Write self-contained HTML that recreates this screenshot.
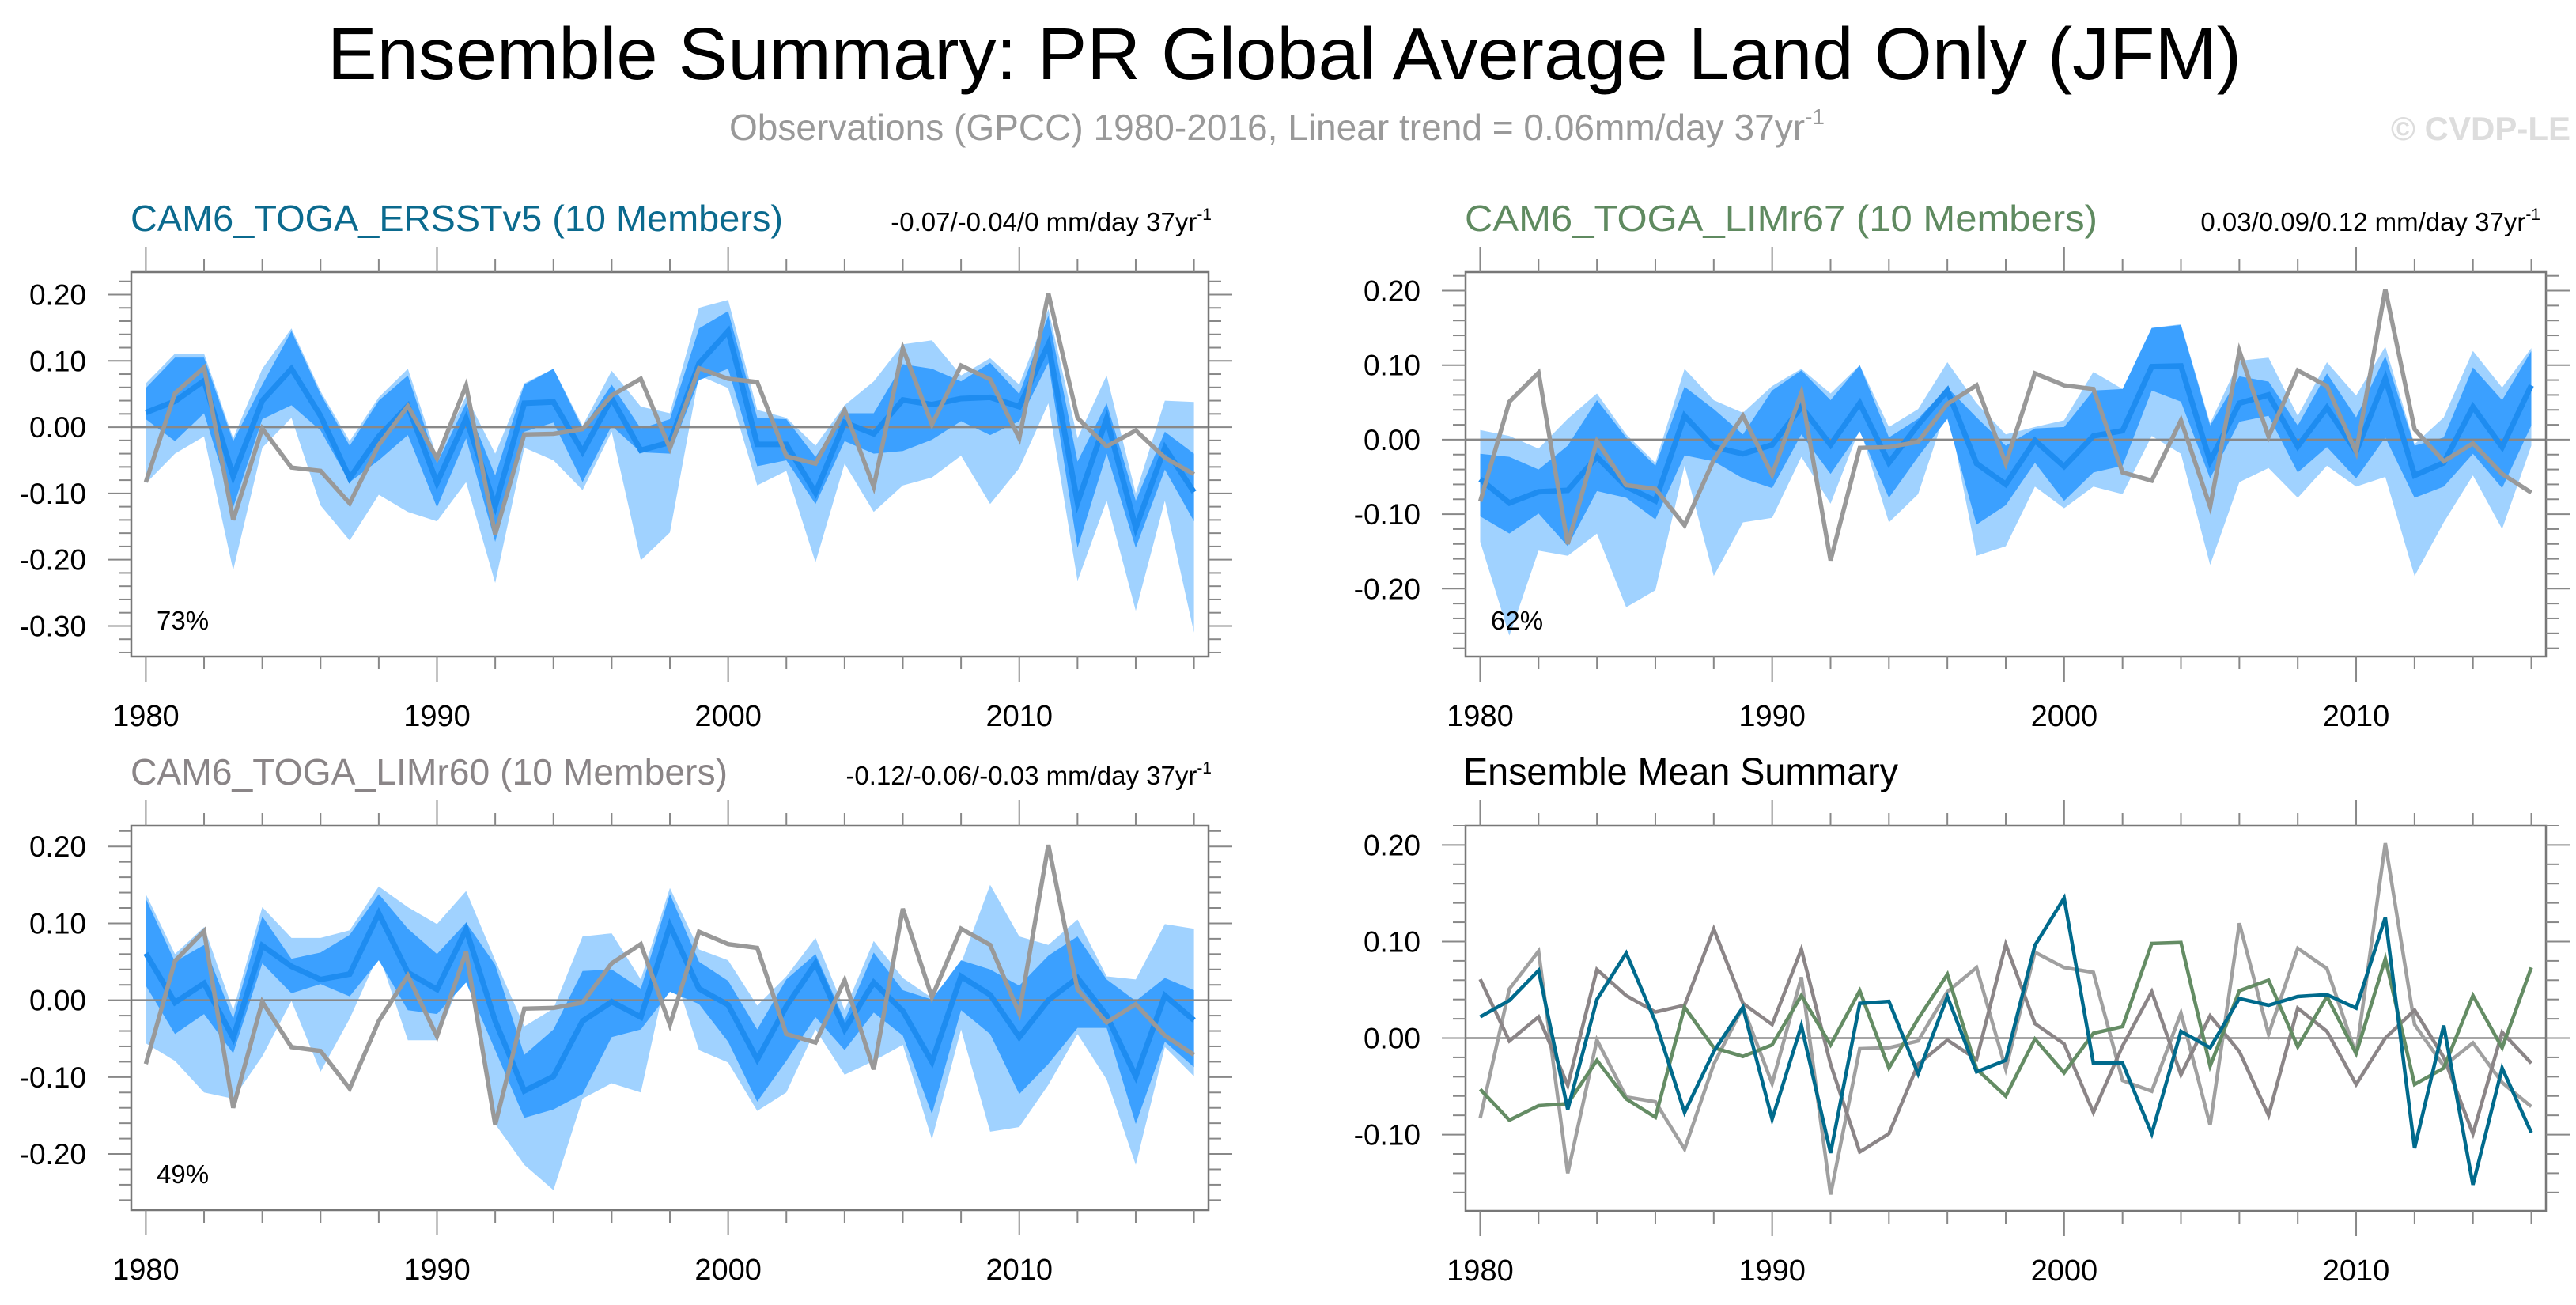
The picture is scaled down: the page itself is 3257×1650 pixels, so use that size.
<!DOCTYPE html>
<html><head><meta charset="utf-8"><title>Ensemble Summary PR</title>
<style>html,body{margin:0;padding:0;background:#fff}svg{display:block;font-family:"Liberation Sans",sans-serif}</style>
</head><body>
<svg id="chart" xmlns="http://www.w3.org/2000/svg" width="3257" height="1650" viewBox="0 0 3257 1650">
<rect width="3257" height="1650" fill="#fff"/>
<text x="1624" y="100" font-size="93" text-anchor="middle" fill="#000" textLength="2420" lengthAdjust="spacingAndGlyphs">Ensemble Summary: PR Global Average Land Only (JFM)</text>
<text x="922" y="177" font-size="46" fill="#999" textLength="1385" lengthAdjust="spacingAndGlyphs">Observations (GPCC) 1980-2016, Linear trend = 0.06mm/day 37yr<tspan font-size="28" dy="-20">-1</tspan></text>
<text x="3250" y="177" font-size="42" font-weight="bold" fill="#ddd" text-anchor="end">© CVDP-LE</text>
<text x="165" y="292" font-size="46" fill="#0b6a8e" textLength="825" lengthAdjust="spacingAndGlyphs">CAM6_TOGA_ERSSTv5 (10 Members)</text>
<text x="1532" y="292" font-size="33" fill="#000" text-anchor="end">-0.07/-0.04/0 mm/day 37yr<tspan font-size="21" dy="-14">-1</tspan></text>
<text x="1852" y="292" font-size="46" fill="#5f8a60" textLength="800" lengthAdjust="spacingAndGlyphs">CAM6_TOGA_LIMr67 (10 Members)</text>
<text x="3212" y="292" font-size="33" fill="#000" text-anchor="end">0.03/0.09/0.12 mm/day 37yr<tspan font-size="21" dy="-14">-1</tspan></text>
<text x="165" y="992" font-size="46" fill="#8a8587" textLength="755" lengthAdjust="spacingAndGlyphs">CAM6_TOGA_LIMr60 (10 Members)</text>
<text x="1532" y="992" font-size="33" fill="#000" text-anchor="end">-0.12/-0.06/-0.03 mm/day 37yr<tspan font-size="21" dy="-14">-1</tspan></text>
<text x="1850" y="992" font-size="48" fill="#000" textLength="550" lengthAdjust="spacingAndGlyphs">Ensemble Mean Summary</text>
</svg>
<script>
const years=[];for(let y=1980;y<=2016;y++)years.push(y);
const obs=[-0.083,0.051,0.090,-0.140,-0.002,-0.061,-0.066,-0.115,-0.027,0.032,-0.047,0.063,-0.162,-0.011,-0.010,-0.003,0.048,0.073,-0.032,0.089,0.073,0.068,-0.044,-0.055,0.026,-0.090,0.119,0.004,0.093,0.072,-0.017,0.202,0.014,-0.029,-0.005,-0.046,-0.071];
const ersstMean=[0.022,0.039,0.070,-0.074,0.040,0.088,0.017,-0.077,-0.014,0.032,-0.084,0.013,-0.119,0.036,0.038,-0.037,0.043,-0.035,-0.023,0.096,0.145,-0.026,-0.026,-0.099,0.007,-0.010,0.041,0.034,0.043,0.045,0.031,0.125,-0.114,0.013,-0.152,-0.031,-0.098];
const limr67Mean=[-0.053,-0.085,-0.070,-0.068,-0.023,-0.063,-0.082,0.032,-0.010,-0.019,-0.007,0.044,-0.007,0.049,-0.031,0.020,0.066,-0.032,-0.060,-0.001,-0.036,0.005,0.012,0.098,0.099,-0.029,0.049,0.060,-0.009,0.043,-0.016,0.082,-0.048,-0.031,0.044,-0.010,0.073];
const limr60Mean=[0.061,-0.003,0.022,-0.049,0.071,0.044,0.027,0.034,0.113,0.036,0.014,0.092,-0.027,-0.118,-0.099,-0.027,-0.002,-0.022,0.097,0.015,-0.006,-0.077,-0.008,0.048,-0.038,0.023,-0.014,-0.080,0.031,0.007,-0.048,0.000,0.029,-0.020,-0.099,0.006,-0.026];
const ersstMax=[0.066,0.111,0.111,-0.017,0.088,0.149,0.054,-0.021,0.045,0.088,-0.045,0.047,-0.040,0.066,0.088,0.002,0.085,0.031,0.021,0.180,0.192,0.026,0.014,-0.028,0.033,0.069,0.125,0.131,0.078,0.104,0.064,0.178,-0.017,0.078,-0.100,0.040,0.038];
const ersstMin=[-0.085,-0.040,-0.014,-0.216,-0.031,0.014,-0.118,-0.171,-0.102,-0.128,-0.142,-0.083,-0.235,-0.031,-0.050,-0.095,-0.007,-0.201,-0.159,0.078,0.059,-0.088,-0.066,-0.204,-0.055,-0.128,-0.088,-0.076,-0.043,-0.116,-0.062,0.036,-0.232,-0.111,-0.277,-0.111,-0.310];
const ersstQ3=[0.059,0.105,0.105,-0.021,0.064,0.145,0.050,-0.028,0.040,0.078,-0.055,0.036,-0.073,0.064,0.088,-0.002,0.064,-0.002,0.012,0.149,0.175,0.014,0.012,-0.045,0.021,0.021,0.095,0.088,0.069,0.097,0.050,0.168,-0.052,0.036,-0.111,-0.007,-0.040];
const ersstQ1=[0.012,-0.021,0.021,-0.121,0.012,0.033,-0.005,-0.083,-0.050,-0.012,-0.121,-0.017,-0.173,-0.007,0.007,-0.083,0.002,-0.038,-0.040,0.071,0.088,-0.059,-0.050,-0.116,-0.021,-0.040,-0.036,-0.019,0.009,-0.012,0.009,0.097,-0.182,-0.040,-0.182,-0.064,-0.142];
const limr67Max=[0.013,0.005,-0.012,0.028,0.062,0.007,-0.031,0.095,0.053,0.036,0.072,0.095,0.062,0.100,0.017,0.041,0.104,0.049,0.007,0.017,0.026,0.091,0.068,0.150,0.155,0.022,0.106,0.110,0.032,0.104,0.059,0.125,-0.006,0.030,0.119,0.070,0.123];
const limr67Min=[-0.137,-0.263,-0.149,-0.156,-0.126,-0.225,-0.202,-0.035,-0.183,-0.111,-0.105,-0.023,-0.086,0.015,-0.111,-0.073,0.045,-0.156,-0.143,-0.063,-0.092,-0.063,-0.073,0.005,-0.019,-0.168,-0.057,-0.038,-0.078,-0.035,-0.063,-0.050,-0.183,-0.111,-0.048,-0.120,-0.008];
const limr67Q3=[-0.019,-0.023,-0.040,-0.008,0.053,0.003,-0.035,0.071,0.041,0.007,0.066,0.093,0.053,0.100,0.003,0.028,0.070,0.030,-0.008,0.015,0.017,0.066,0.068,0.150,0.154,0.019,0.085,0.078,0.019,0.089,0.030,0.112,-0.008,0.003,0.097,0.053,0.119];
const limr67Q1=[-0.103,-0.126,-0.099,-0.143,-0.069,-0.078,-0.107,-0.021,-0.029,-0.052,-0.065,0.007,-0.046,0.011,-0.078,-0.023,0.028,-0.114,-0.088,-0.031,-0.082,-0.044,-0.035,0.066,0.051,-0.052,0.024,0.032,-0.044,-0.010,-0.052,0.003,-0.078,-0.063,-0.019,-0.065,0.019];
const limr60Max=[0.138,0.060,0.095,-0.013,0.121,0.081,0.081,0.091,0.148,0.121,0.099,0.142,0.052,-0.034,-0.011,0.083,0.087,0.027,0.146,0.066,0.052,-0.007,0.031,0.081,-0.013,0.077,0.029,0.003,0.048,0.150,0.083,0.072,0.105,0.031,0.027,0.099,0.093];
const limr60Min=[-0.056,-0.079,-0.120,-0.128,-0.073,-0.001,-0.093,-0.024,0.060,-0.052,-0.052,0.044,-0.161,-0.214,-0.247,-0.128,-0.108,-0.120,0.052,-0.065,-0.081,-0.144,-0.120,-0.038,-0.097,-0.079,-0.058,-0.181,-0.038,-0.171,-0.165,-0.110,-0.044,-0.103,-0.214,-0.061,-0.099];
const limr60Q3=[0.132,0.050,0.072,-0.024,0.109,0.054,0.062,0.085,0.138,0.093,0.060,0.101,0.046,-0.071,-0.038,0.038,0.040,0.015,0.138,0.050,0.025,-0.038,0.027,0.060,-0.026,0.062,0.013,0.001,0.052,0.040,0.019,0.058,0.083,0.027,-0.001,0.029,0.013];
const limr60Q1=[0.019,-0.044,-0.018,-0.069,0.048,0.009,0.021,0.005,0.052,-0.013,-0.018,0.023,-0.065,-0.153,-0.142,-0.122,-0.048,-0.038,0.011,-0.005,-0.054,-0.132,-0.079,-0.022,-0.065,-0.016,-0.046,-0.148,-0.013,-0.044,-0.122,-0.083,-0.036,-0.036,-0.161,-0.054,-0.087];
const pctLabels=["73%","62%","49%"];
const yTickLabels1=[0.20,0.10,0.00,-0.10,-0.20,-0.30];
const yTickLabels2=[0.20,0.10,0.00,-0.10,-0.20];
const yTickLabels4=[0.20,0.10,0.00,-0.10];
const xTickLabels=[1980,1990,2000,2010];

const NS="http://www.w3.org/2000/svg";
const svg=document.getElementById('chart');
function mk(tag,attrs,parent){const e=document.createElementNS(NS,tag);for(const k in attrs)e.setAttribute(k,attrs[k]);(parent||svg).appendChild(e);return e;}

function panel(cfg){
  const g=mk('g',{});
  
  
  const xs=v=>cfg.x0+(v-1979.5)/(37)*(cfg.x1-cfg.x0);
  const ys=v=>cfg.y0+(cfg.vmax-v)/(cfg.vmax-cfg.vmin)*(cfg.y1-cfg.y0);
  const clip='clip-'+cfg.name;
  const cp=mk('clipPath',{id:clip},g);mk('rect',{x:cfg.x0,y:cfg.y0,width:cfg.x1-cfg.x0,height:cfg.y1-cfg.y0},cp);
  const inner=mk('g',{'clip-path':'url(#'+clip+')'},g);
  function band(hi,lo,color,nm){
    let d='M'+years.map((y,i)=>xs(y).toFixed(1)+','+ys(hi[i]).toFixed(1)).join('L');
    for(let i=years.length-1;i>=0;i--)d+='L'+xs(years[i]).toFixed(1)+','+ys(lo[i]).toFixed(1);
    const p=mk('path',{d:d+'Z',fill:color},inner);
    
    
  }
  function line(vals,color,w,nm){
    const p=mk('polyline',{points:years.map((y,i)=>xs(y).toFixed(1)+','+ys(vals[i]).toFixed(1)).join(' '),fill:'none',stroke:color,'stroke-width':w,'stroke-linejoin':'miter','stroke-miterlimit':4},inner);
    
    
  }
  if(cfg.bands){
    band(cfg.bands[0],cfg.bands[1],'#a0d2ff','range-band');
    band(cfg.bands[2],cfg.bands[3],'#3ba0ff','interquartile-band');
  }
  const zl=mk('line',{x1:cfg.x0,x2:cfg.x1,y1:ys(0),y2:ys(0),stroke:'#888','stroke-width':2.5},inner);
  
  
  cfg.lines.forEach(l=>line(l[0],l[1],l[2],l[3]));
  const fr=mk('rect',{x:cfg.x0,y:cfg.y0,width:cfg.x1-cfg.x0,height:cfg.y1-cfg.y0,fill:'none',stroke:'#777','stroke-width':2.5},g);
  
  
  for(let k=Math.ceil(cfg.vmin/0.02-1e-6);k*0.02<=cfg.vmax+1e-9;k++){
    const v=k*0.02,maj=(Math.abs(k)%5===0),L=maj?30:16,y=ys(v);
    mk('line',{x1:cfg.x0-L,x2:cfg.x0,y1:y,y2:y,stroke:'#888','stroke-width':2},g);
    mk('line',{x1:cfg.x1,x2:cfg.x1+L,y1:y,y2:y,stroke:'#888','stroke-width':2},g);
  }
  cfg.yLabels.forEach(v=>{
    const t=mk('text',{x:cfg.x0-57,y:ys(v)+13,'font-size':37,'text-anchor':'end',fill:'#000'},g);
    t.textContent=v.toFixed(2);
    
    
  });
  for(let yr=1980;yr<=2016;yr+=2){
    const maj=(yr%10===0),L=maj?32:16,x=xs(yr);
    mk('line',{x1:x,x2:x,y1:cfg.y0-L,y2:cfg.y0,stroke:'#888','stroke-width':2},g);
    mk('line',{x1:x,x2:x,y1:cfg.y1,y2:cfg.y1+L,stroke:'#888','stroke-width':2},g);
  }
  xTickLabels.forEach(v=>{
    const t=mk('text',{x:xs(v),y:cfg.y1+88,'font-size':38,'text-anchor':'middle',fill:'#000'},g);
    t.textContent=String(v);
    
    
  });
  if(cfg.pct){
    const t=mk('text',{x:cfg.x0+32,y:cfg.y1-34,'font-size':33,fill:'#000'},g);
    t.textContent=cfg.pct;
    
    
  }
}
panel({name:'ersst-panel',x0:166,x1:1528,y0:344,y1:830,vmax:0.234,vmin:-0.346,yLabels:yTickLabels1,pct:pctLabels[0],
  bands:[ersstMax,ersstMin,ersstQ3,ersstQ1],lines:[[ersstMean,'#1e8cf0',7,'ensemble-mean-line'],[obs,'#999',5.5,'observations-line']]});
panel({name:'limr67-panel',x0:1853,x1:3219,y0:344,y1:830,vmax:0.225,vmin:-0.291,yLabels:yTickLabels2,pct:pctLabels[1],
  bands:[limr67Max,limr67Min,limr67Q3,limr67Q1],lines:[[limr67Mean,'#1e8cf0',7,'ensemble-mean-line'],[obs,'#999',5.5,'observations-line']]});
panel({name:'limr60-panel',x0:166,x1:1528,y0:1044,y1:1530,vmax:0.227,vmin:-0.273,yLabels:yTickLabels2,pct:pctLabels[2],
  bands:[limr60Max,limr60Min,limr60Q3,limr60Q1],lines:[[limr60Mean,'#1e8cf0',7,'ensemble-mean-line'],[obs,'#999',5.5,'observations-line']]});
panel({name:'ensemble-mean-panel',x0:1853,x1:3219,y0:1044,y1:1531,vmax:0.220,vmin:-0.179,yLabels:yTickLabels4,
  lines:[[obs,'#a0a0a0',4.5,'observations-line'],[limr60Mean,'#8b8587',4.5,'limr60-mean-line'],[limr67Mean,'#648c64',4.5,'limr67-mean-line'],[ersstMean,'#006a8c',4.5,'ersst-mean-line']]});
</script>
</body></html>
